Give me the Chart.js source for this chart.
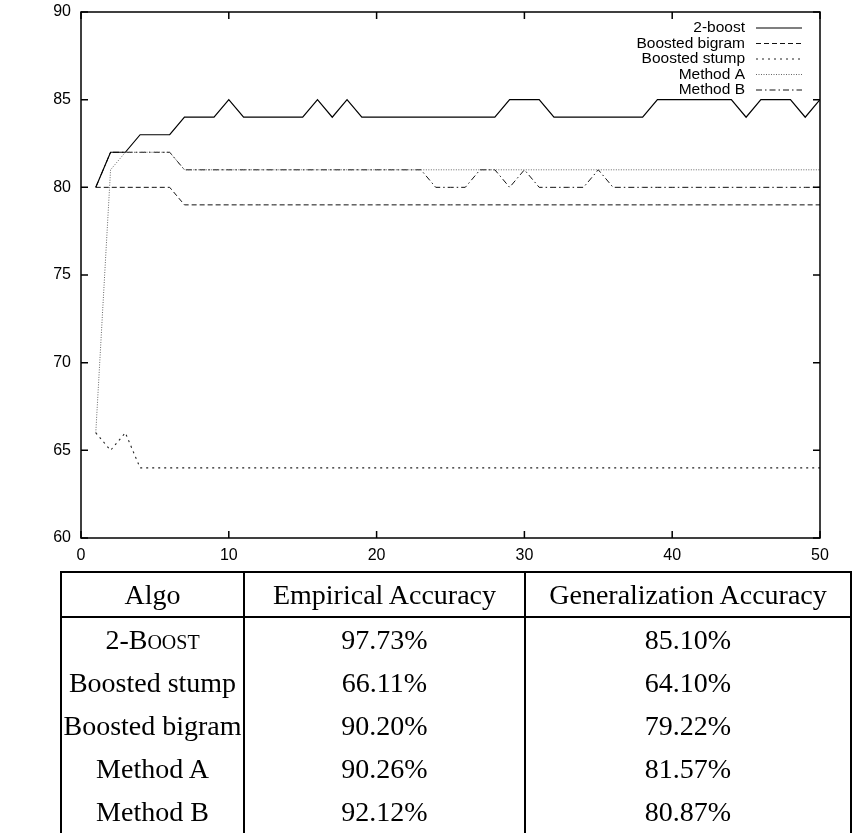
<!DOCTYPE html>
<html>
<head>
<meta charset="utf-8">
<script src="https://cdn.jsdelivr.net/npm/chart.js@4.4.1/dist/chart.umd.min.js"></script>
<style>
    html, body { margin: 0; padding: 0; background: #fff; overflow: hidden; }
    #wrap { position: absolute; left: 0; top: 0; width: 853px; height: 572px; }
    #tbl {
        position: absolute; left: 60px; top: 571px;
        border-collapse: separate; border-spacing: 0;
        font-family: "Liberation Serif", "Times New Roman", serif;
        font-size: 28px; color: #000; table-layout: fixed;
    }
    #tbl td, #tbl th {
        box-sizing: border-box; padding: 0; text-align: center; vertical-align: middle;
        font-weight: normal; border-right: 2px solid #000; height: 43px; line-height: 30px;
        white-space: nowrap; overflow: visible;
    }
    #tbl th { border-top: 2px solid #000; border-bottom: 2px solid #000; height: 47px; }
    #tbl .c1 { border-left: 2px solid #000; }
    .sc { font-variant: small-caps; }
</style>
</head>
<body>
<div id="wrap"><canvas id="myChart" width="853" height="572"></canvas></div>
<table id="tbl">
    <colgroup><col style="width:185px"><col style="width:281px"><col style="width:326px"></colgroup>
    <thead><tr><th class="c1">Algo</th><th>Empirical Accuracy</th><th>Generalization Accuracy</th></tr></thead>
    <tbody id="tbody"></tbody>
</table>
<script>
// iterations
const iterations = [
    1, 2, 3, 4, 5, 6, 7, 8, 9, 10,
    11, 12, 13, 14, 15, 16, 17, 18, 19, 20,
    21, 22, 23, 24, 25, 26, 27, 28, 29, 30,
    31, 32, 33, 34, 35, 36, 37, 38, 39, 40,
    41, 42, 43, 44, 45, 46, 47, 48, 49, 50
];

const twoBoost = [
    80, 82, 82, 83, 83, 83, 84, 84, 84, 85,
    84, 84, 84, 84, 84, 85, 84, 85, 84, 84,
    84, 84, 84, 84, 84, 84, 84, 84, 85, 85,
    85, 84, 84, 84, 84, 84, 84, 84, 85, 85,
    85, 85, 85, 85, 84, 85, 85, 85, 84, 85
];
const boostedBigram = [
    80, 80, 80, 80, 80, 80, 79, 79, 79, 79,
    79, 79, 79, 79, 79, 79, 79, 79, 79, 79,
    79, 79, 79, 79, 79, 79, 79, 79, 79, 79,
    79, 79, 79, 79, 79, 79, 79, 79, 79, 79,
    79, 79, 79, 79, 79, 79, 79, 79, 79, 79
];
const boostedStump = [
    66, 65, 66, 64, 64, 64, 64, 64, 64, 64,
    64, 64, 64, 64, 64, 64, 64, 64, 64, 64,
    64, 64, 64, 64, 64, 64, 64, 64, 64, 64,
    64, 64, 64, 64, 64, 64, 64, 64, 64, 64,
    64, 64, 64, 64, 64, 64, 64, 64, 64, 64
];
const methodA = [
    66, 81, 82, 82, 82, 82, 81, 81, 81, 81,
    81, 81, 81, 81, 81, 81, 81, 81, 81, 81,
    81, 81, 81, 81, 81, 81, 81, 81, 81, 81,
    81, 81, 81, 81, 81, 81, 81, 81, 81, 81,
    81, 81, 81, 81, 81, 81, 81, 81, 81, 81
];
const methodB = [
    80, 82, 82, 82, 82, 82, 81, 81, 81, 81,
    81, 81, 81, 81, 81, 81, 81, 81, 81, 81,
    81, 81, 81, 80, 80, 80, 81, 81, 80, 81,
    80, 80, 80, 80, 81, 80, 80, 80, 80, 80,
    80, 80, 80, 80, 80, 80, 80, 80, 80, 80
];

const seriesNames = ["2-boost", "Boosted bigram", "Boosted stump", "Method A", "Method B"];

// table
const algoNames = ["2-Boost", "Boosted stump", "Boosted bigram", "Method A", "Method B"];
const empirical = ["97.73%", "66.11%", "90.20%", "90.26%", "92.12%"];
const generalization = ["85.10%", "64.10%", "79.22%", "81.57%", "80.87%"];

const tbody = document.getElementById("tbody");
algoNames.forEach((name, i) => {
    const tr = document.createElement("tr");
    const td1 = document.createElement("td");
    td1.className = "c1";
    if (i == 0) {
        td1.innerHTML = '<span class="sc">' + name + '</span>';
    } else {
        td1.innerText = name;
    }
    const td2 = document.createElement("td");
    td2.innerText = empirical[i];
    const td3 = document.createElement("td");
    td3.innerText = generalization[i];
    tr.appendChild(td1); tr.appendChild(td2); tr.appendChild(td3);
    tbody.appendChild(tr);
});

function toPoints(values) {
    return values.map((v, i) => ({ x: iterations[i], y: v }));
}

const lineStyles = [
    { color: "#000", width: 1.2, dash: [] },
    { color: "#111", width: 1, dash: [5, 3] },
    { color: "#222", width: 1.1, dash: [2, 4] },
    { color: "#666", width: 1, dash: [1, 1.5] },
    { color: "#111", width: 1, dash: [6, 3, 1.5, 3] }
];
const allSeries = [twoBoost, boostedBigram, boostedStump, methodA, methodB];

const datasets = allSeries.map((values, i) => ({
    label: seriesNames[i],
    data: toPoints(values),
    borderColor: lineStyles[i].color,
    borderWidth: lineStyles[i].width,
    borderDash: lineStyles[i].dash,
    pointRadius: 0,
    fill: false,
    tension: 0
}));

const tickFont = { family: "'Liberation Sans', Arial, sans-serif", size: 16 };

// frame, inward ticks and gnuplot-like legend
const framePlugin = {
    id: "frame",
    afterDraw(chart) {
        const ctx = chart.ctx;
        const a = chart.chartArea;
        const xs = chart.scales.x;
        const ys = chart.scales.y;
        const tl = 7;
        ctx.save();
        ctx.strokeStyle = "#000";
        ctx.lineWidth = 1.5;
        ctx.setLineDash([]);
        ctx.strokeRect(a.left, a.top, a.right - a.left, a.bottom - a.top);
        ctx.beginPath();
        xs.ticks.forEach(t => {
            const px = xs.getPixelForValue(t.value);
            ctx.moveTo(px, a.bottom); ctx.lineTo(px, a.bottom - tl);
            ctx.moveTo(px, a.top); ctx.lineTo(px, a.top + tl);
        });
        ys.ticks.forEach(t => {
            const py = ys.getPixelForValue(t.value);
            ctx.moveTo(a.left, py); ctx.lineTo(a.left + tl, py);
            ctx.moveTo(a.right, py); ctx.lineTo(a.right - tl, py);
        });
        ctx.stroke();

        // legend
        ctx.font = "15.5px 'Liberation Sans', Arial, sans-serif";
        ctx.fillStyle = "#000";
        ctx.textAlign = "right";
        ctx.textBaseline = "middle";
        chart.data.datasets.forEach((ds, i) => {
            const y = a.top + 16 + i * 15.5;
            ctx.fillText(ds.label, a.right - 75, y);
            ctx.beginPath();
            ctx.strokeStyle = ds.borderColor;
            ctx.lineWidth = ds.borderWidth;
            ctx.setLineDash(ds.borderDash);
            ctx.moveTo(a.right - 64, y);
            ctx.lineTo(a.right - 18, y);
            ctx.stroke();
        });
        ctx.restore();
    }
};

new Chart(document.getElementById("myChart"), {
    type: "line",
    data: { datasets: datasets },
    options: {
        responsive: false,
        animation: false,
        devicePixelRatio: 1,
        layout: { padding: { left: 0, right: 33, top: 12, bottom: 0 } },
        plugins: { legend: { display: false }, tooltip: { enabled: false } },
        scales: {
            x: {
                type: "linear",
                min: 0,
                max: 50,
                grid: { display: false, drawTicks: false },
                border: { display: false },
                ticks: { stepSize: 10, color: "#000", font: tickFont, padding: 8, maxRotation: 0 },
                afterFit: scale => {
                    scale.height = 34;
                    scale.paddingLeft = 0;
                    scale.paddingRight = 0;
                }
            },
            y: {
                min: 60,
                max: 90,
                grid: { display: false, drawTicks: false },
                border: { display: false },
                ticks: { stepSize: 5, color: "#000", font: tickFont, padding: 10 },
                afterFit: scale => {
                    scale.width = 81;
                    scale.paddingTop = 0;
                    scale.paddingBottom = 0;
                }
            }
        }
    },
    plugins: [framePlugin]
});
</script>
</body>
</html>
